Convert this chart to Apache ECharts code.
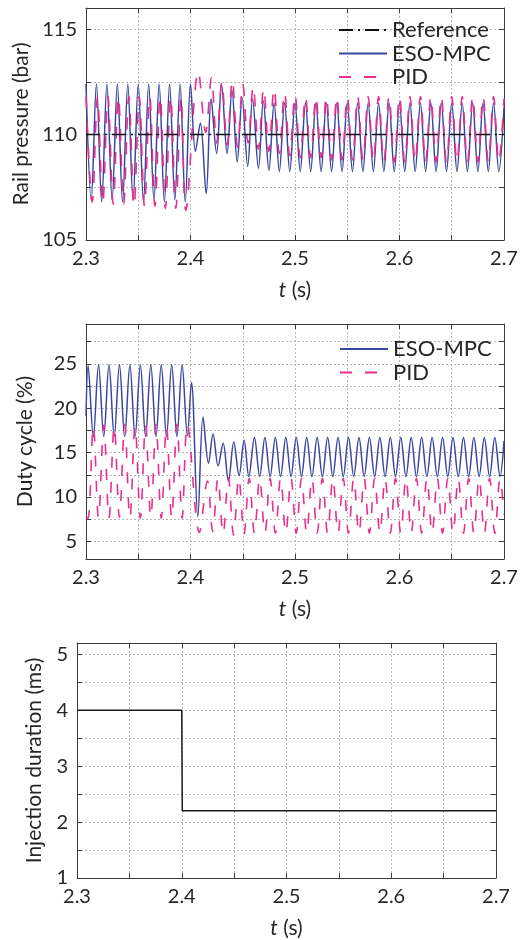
<!DOCTYPE html>
<html><head><meta charset="utf-8">
<script src="https://cdn.jsdelivr.net/npm/echarts@6/dist/echarts.min.js"></script>
<style>html,body{margin:0;padding:0;background:#fff}#c{width:532px;height:940px}</style>
</head><body><div id="c"></div>
<script>
// ---------- tick labels / grid positions ----------
const xTickLabels = [2.3, 2.4, 2.5, 2.6, 2.7];
const xGridValues = [2.3, 2.35, 2.4, 2.45, 2.5, 2.55, 2.6, 2.65, 2.7];
const pressureTickLabels = [105, 110, 115];
const pressureGridValues = [105, 107.5, 110, 112.5, 115];
const dutyTickLabels = [5, 10, 15, 20, 25];
const dutyGridValues = [5, 7.5, 10, 12.5, 15, 17.5, 20, 22.5, 25, 27.5];
const injTickLabels = [1, 2, 3, 4, 5];
const injGridValues = [1, 1.5, 2, 2.5, 3, 3.5, 4, 4.5, 5];

// ---------- panel 1: rail pressure (bar) ----------
const refT = [2.3, 2.7];
const refV = [110, 110];

const esoPressureT = [2.300,2.305,2.310,2.315,2.320,2.325,2.330,2.335,2.340,2.345,2.350,2.355,2.360,2.365,2.370,2.375,2.380,2.385,2.390,2.395,2.400,
 2.4047,2.4094,2.4150,2.4197,2.4250,2.4297,2.4350,2.4397,2.4447,2.4494,2.4547,2.4594,2.4650,2.4697,2.4750,
 2.480,2.485,2.490,2.495,2.500,2.505,2.510,2.515,2.520,2.525,2.530,2.535,2.540,2.545,2.550,2.555,2.560,2.565,2.570,2.575,
 2.580,2.585,2.590,2.595,2.600,2.605,2.610,2.615,2.620,2.625,2.630,2.635,2.640,2.645,2.650,2.655,2.660,2.665,2.670,2.675,
 2.680,2.685,2.690,2.695,2.700];
const esoPressureV = [112.4,106.9,112.4,106.8,112.4,106.9,112.4,106.8,112.4,106.9,112.4,106.8,112.4,106.9,112.4,106.8,112.4,106.9,112.4,106.8,112.4,
 109.2,110.55,107.2,111.7,109.1,112.4,109.1,112.1,108.7,111.75,108.5,111.7,108.4,111.6,108.3,
 111.5,108.25,111.5,108.25,111.5,108.25,111.5,108.25,111.5,108.25,111.5,108.25,111.5,108.25,111.5,108.25,111.5,108.25,111.5,108.25,
 111.5,108.25,111.5,108.25,111.5,108.25,111.5,108.25,111.5,108.25,111.5,108.25,111.5,108.25,111.5,108.25,111.5,108.25,111.5,108.25,
 111.5,108.25,111.5,108.25,111.3];

const pidPressureT = [2.300,2.306,2.311,2.316,2.321,2.326,2.331,2.336,2.341,2.346,2.351,2.356,2.361,2.366,2.371,2.376,2.381,2.386,2.391,2.3955,
 2.4075,2.4145,2.4200,2.4250,2.4300,2.4350,2.4400,2.4450,2.4500,2.4550,2.4600,2.4650,2.4700,2.4750,2.4800,2.4850,2.4900,2.4950,2.5000,2.5050,
 2.510,2.515,2.520,2.525,2.530,2.535,2.540,2.545,2.550,2.555,2.560,2.565,2.570,2.575,2.580,2.585,2.590,2.595,
 2.600,2.605,2.610,2.615,2.620,2.625,2.630,2.635,2.640,2.645,2.650,2.655,2.660,2.665,2.670,2.675,2.680,2.685,2.690,2.695,2.700];
const pidPressureV = [111.8,106.8,111.8,106.7,111.8,106.7,111.8,106.7,111.8,106.6,111.8,106.6,111.8,106.6,111.8,106.5,111.8,106.5,111.8,106.4,
 113.0,110.1,112.7,109.6,112.5,109.5,112.6,109.4,112.4,109.6,112.3,109.3,112.2,109.2,112.2,109.1,112.0,109.0,111.9,108.9,
 111.8,108.9,111.8,108.9,111.8,108.8,111.8,108.8,111.8,108.8,111.8,108.8,111.8,108.7,111.8,108.7,111.8,108.7,
 111.8,108.7,111.8,108.7,111.8,108.7,111.8,108.7,111.8,108.7,111.8,108.7,111.8,108.7,111.8,108.7,111.8,108.7,111.8,108.7,111.7];

// ---------- panel 2: duty cycle (%) ----------
const esoDutyT = [2.300,2.302,2.307,2.312,2.317,2.322,2.327,2.332,2.337,2.342,2.347,2.352,2.357,2.362,2.367,2.372,2.377,2.382,2.387,2.392,2.397,
 2.4009,2.4070,2.4120,2.4172,2.4216,2.4264,2.4312,2.4363,2.4414,2.4465,2.4513,2.4558,
 2.4612,2.4662,2.4712,2.4762,2.4812,2.4862,2.4912,2.4962,2.5012,2.5062,2.5112,2.5162,2.5212,2.5262,2.5312,2.5362,
 2.5412,2.5462,2.5512,2.5562,2.5612,2.5662,2.5712,2.5762,2.5812,2.5862,2.5912,2.5962,2.6012,2.6062,2.6112,2.6162,
 2.6212,2.6262,2.6312,2.6362,2.6412,2.6462,2.6512,2.6562,2.6612,2.6662,2.6712,2.6762,2.6812,2.6862,2.6912,2.6962,2.700];
const esoDutyV = [19.1,24.8,16.8,24.9,16.8,24.9,16.8,24.9,16.8,24.9,16.8,24.9,16.8,24.9,16.8,24.9,16.8,24.9,16.8,24.9,16.9,
 22.9,7.8,19.0,13.8,17.1,13.5,16.05,11.8,16.2,12.4,16.4,12.3,
 16.7,12.3,16.7,12.3,16.7,12.3,16.7,12.3,16.7,12.3,16.7,12.3,16.7,12.3,16.7,12.3,
 16.7,12.3,16.7,12.3,16.7,12.3,16.7,12.3,16.7,12.3,16.7,12.3,16.7,12.3,16.7,12.3,
 16.7,12.3,16.7,12.3,16.7,12.3,16.7,12.3,16.7,12.3,16.7,12.3,16.7,12.3,16.7,12.3,16.3];

const pidDutyT = [2.300,2.302,2.307,2.312,2.317,2.322,2.327,2.332,2.337,2.342,2.347,2.352,2.357,2.362,2.367,2.372,2.377,2.382,2.387,2.392,2.397,
 2.4085,2.4162,2.4212,2.4262,2.4312,2.4362,2.4412,2.4462,2.4512,2.4562,
 2.4612,2.4662,2.4712,2.4762,2.4812,2.4862,2.4912,2.4962,2.5012,2.5062,2.5112,2.5162,2.5212,2.5262,2.5312,2.5362,
 2.5412,2.5462,2.5512,2.5562,2.5612,2.5662,2.5712,2.5762,2.5812,2.5862,2.5912,2.5962,2.6012,2.6062,2.6112,2.6162,
 2.6212,2.6262,2.6312,2.6362,2.6412,2.6462,2.6512,2.6562,2.6612,2.6662,2.6712,2.6762,2.6812,2.6862,2.6912,2.6962,2.700];
const pidDutyV = [7.8,7.6,18.0,7.6,18.1,7.6,18.0,7.7,18.2,7.6,18.0,7.6,18.1,7.7,18.2,7.6,18.0,7.6,18.2,7.6,18.2,
 6.0,11.8,6.1,12.1,5.8,12.2,5.7,12.2,5.8,12.1,
 5.9,12.1,5.9,12.1,5.9,12.1,5.9,12.1,5.9,12.1,5.9,12.1,5.9,12.1,5.9,12.1,
 5.9,12.1,5.9,12.1,5.9,12.1,5.9,12.1,5.9,12.1,5.9,12.1,5.9,12.1,5.9,12.1,
 5.9,12.1,5.9,12.1,5.9,12.1,5.9,12.1,5.9,12.1,5.9,12.1,5.9,12.1,5.9,12.1,8.0];

// ---------- panel 3: injection duration (ms) ----------
const injT = [2.3, 2.4, 2.4005, 2.7];
const injV = [4, 4, 2.2, 2.2];

// ---------- styling ----------
const FONT = 'Lato';
const TXT = '#262626';
const AXC = '#3c3c3c';
const GRIDC = '#a6a6a6';
const BLUE = '#3a46a0';
const PINK = '#ea2f8c';

function pairs(t, v) { return t.map((x, i) => [x, v[i]]); }

const grids = [
  { left: 86, right: 28, top: 8, height: 232 },
  { left: 86, right: 28, top: 324, height: 235 },
  { left: 77, right: 36, top: 643, height: 237 }
];

const xNameStyle = {
  fontSize: 21, color: TXT, fontFamily: FONT,
  rich: { i: { fontStyle: 'italic', fontSize: 21, color: TXT, fontFamily: FONT } }
};

const xAxes = [], yAxes = [];
const yCfg = [
  { min: 105, max: 116, labels: pressureTickLabels, gridv: pressureGridValues, name: 'Rail pressure (bar)', gap: 50 },
  { min: 3, max: 29.5, labels: dutyTickLabels, gridv: dutyGridValues, name: 'Duty cycle (%)', gap: 50 },
  { min: 1, max: 5.2, labels: injTickLabels, gridv: injGridValues, name: 'Injection duration (ms)', gap: 32 }
];
for (let g = 0; g < 3; g++) {
  xAxes.push({
    type: 'value', gridIndex: g, min: 2.3, max: 2.7, position: 'bottom',
    axisLine: { show: true, onZero: false, lineStyle: { color: AXC, width: 1 } },
    axisTick: { show: true, inside: true, length: 5, customValues: xGridValues, lineStyle: { color: AXC } },
    axisLabel: { show: true, customValues: xTickLabels, formatter: v => v.toFixed(1), margin: 9, fontSize: 20, color: TXT, fontFamily: FONT },
    splitLine: { show: true, lineStyle: { color: GRIDC, type: [2, 2], width: 0.8 } },
    name: '{i|t} (s)', nameLocation: 'middle', nameGap: 40, nameTextStyle: xNameStyle
  });
  xAxes.push({
    type: 'value', gridIndex: g, min: 2.3, max: 2.7, position: 'top',
    axisLine: { show: true, onZero: false, lineStyle: { color: AXC, width: 1 } },
    axisTick: { show: true, inside: true, length: 5, customValues: xGridValues, lineStyle: { color: AXC } },
    axisLabel: { show: false }, splitLine: { show: false }
  });
  const c = yCfg[g];
  yAxes.push({
    type: 'value', gridIndex: g, min: c.min, max: c.max, position: 'left',
    axisLine: { show: true, onZero: false, lineStyle: { color: AXC, width: 1 } },
    axisTick: { show: true, inside: true, length: 5, customValues: c.gridv, lineStyle: { color: AXC } },
    axisLabel: { show: true, customValues: c.labels, formatter: v => String(v), margin: 9, fontSize: 20, color: TXT, fontFamily: FONT },
    splitLine: { show: true, lineStyle: { color: GRIDC, type: [2, 2], width: 0.8 } },
    name: c.name, nameLocation: 'middle', nameGap: c.gap, nameRotate: 90,
    nameTextStyle: { fontSize: 21, color: TXT, fontFamily: FONT }
  });
  yAxes.push({
    type: 'value', gridIndex: g, min: c.min, max: c.max, position: 'right',
    axisLine: { show: true, onZero: false, lineStyle: { color: AXC, width: 1 } },
    axisTick: { show: true, inside: true, length: 5, customValues: c.gridv, lineStyle: { color: AXC } },
    axisLabel: { show: false }, splitLine: { show: false }
  });
}

function lineSeries(name, g, data, color, type, width, smooth) {
  return {
    name: name, type: 'line', xAxisIndex: g * 2, yAxisIndex: g * 2,
    data: data, symbol: 'none', showSymbol: false, smooth: smooth, clip: true,
    lineStyle: { color: color, width: width, type: type },
    itemStyle: { color: color }, emphasis: { disabled: true }, z: 3
  };
}

const series = [
  lineSeries('ESO-MPC', 0, pairs(esoPressureT, esoPressureV), BLUE, 'solid', 1.5, 0.35),
  lineSeries('PID', 0, pairs(pidPressureT, pidPressureV), PINK, [12, 13], 1.6, 0.35),
  lineSeries('Reference', 0, pairs(refT, refV), '#111', [14, 5, 2, 5], 1.4, false),
  lineSeries('ESO-MPC', 1, pairs(esoDutyT, esoDutyV), BLUE, 'solid', 1.5, 0.35),
  lineSeries('PID', 1, pairs(pidDutyT, pidDutyV), PINK, [11, 14], 1.6, 0.35),
  lineSeries('Injection', 2, pairs(injT, injV), '#1a1a1a', 'solid', 1.5, false)
];
series[2].z = 4;

const legendText = { fontSize: 22, color: TXT, fontFamily: FONT, lineHeight: 22 };
const legendBase = { orient: 'vertical', itemWidth: 48, itemHeight: 12, itemGap: 1.5, selectedMode: false,
  textStyle: legendText, itemStyle: { opacity: 0, borderWidth: 0 } };
const option = {
  animation: false,
  backgroundColor: '#ffffff',
  grid: grids,
  xAxis: xAxes,
  yAxis: yAxes,
  legend: [
    Object.assign({ data: ['Reference', 'ESO-MPC', 'PID'], left: 333, top: 14 }, legendBase),
    Object.assign({ data: ['ESO-MPC', 'PID'], left: 334, top: 333 }, legendBase)
  ],
  series: series
};
const chart = echarts.init(document.getElementById('c'));
chart.setOption(option);
</script>
</body></html>
